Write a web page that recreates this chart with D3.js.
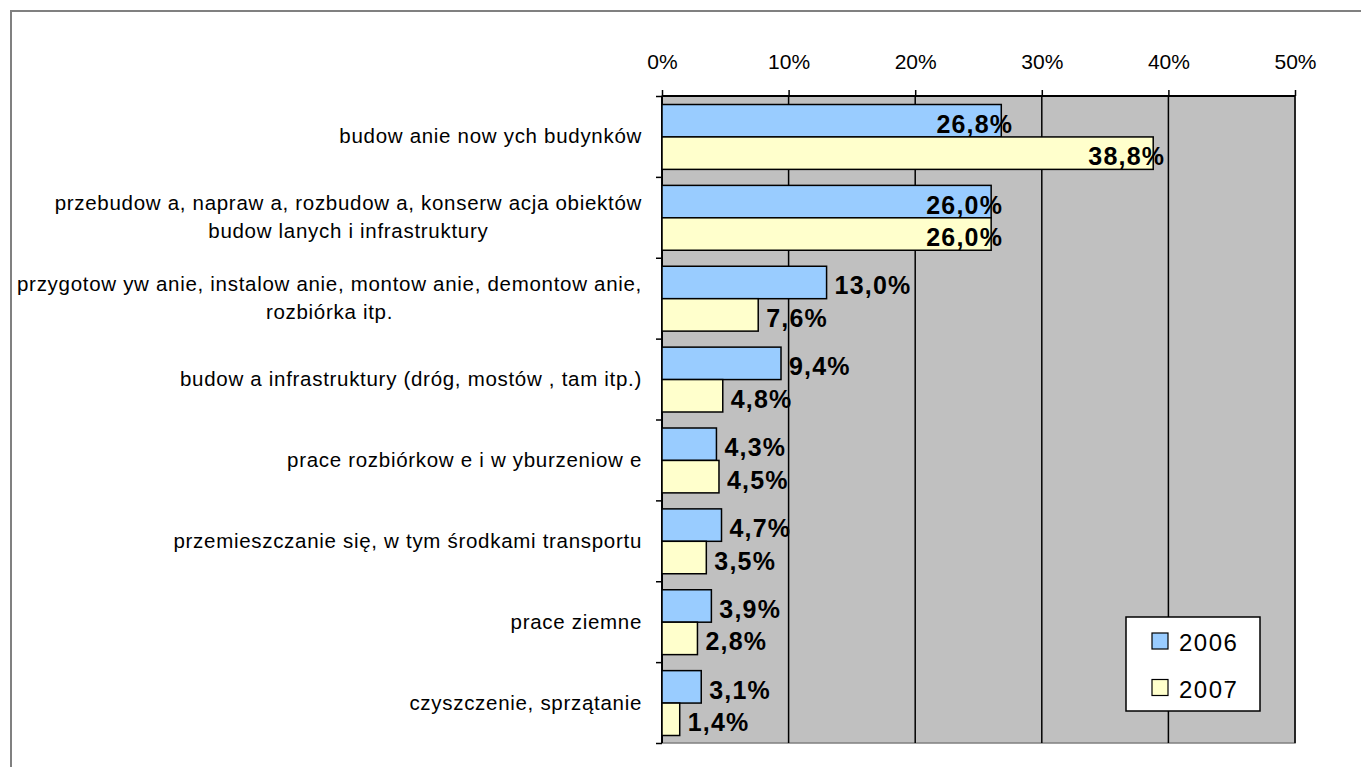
<!DOCTYPE html>
<html>
<head>
<meta charset="utf-8">
<script src="https://cdnjs.cloudflare.com/ajax/libs/d3/7.8.5/d3.min.js"></script>
<style>
  body { margin: 0; background: #fff; }
  svg { display: block; font-family: "Liberation Sans", Arial, sans-serif; }
</style>
</head>
<body>
<div id="chart"></div>
<script>
var categories = [
  ["budow anie now ych budynków"],
  ["przebudow a, napraw a, rozbudow a, konserw acja obiektów", "budow lanych i infrastruktury"],
  ["przygotow yw anie, instalow anie, montow anie, demontow anie,", "rozbiórka itp."],
  ["budow a infrastruktury (dróg, mostów , tam itp.)"],
  ["prace rozbiórkow e i w yburzeniow e"],
  ["przemieszczanie się, w  tym środkami transportu"],
  ["prace ziemne"],
  ["czyszczenie, sprzątanie"]
];
var seriesNames = ["2006", "2007"];
var values2006 = [0.268, 0.260, 0.130, 0.094, 0.043, 0.047, 0.039, 0.031];
var values2007 = [0.388, 0.260, 0.076, 0.048, 0.045, 0.035, 0.028, 0.014];
var xTicks = [0, 0.1, 0.2, 0.3, 0.4, 0.5];
var colors = ["#99ccff", "#ffffcc"];

var width = 1361, height = 767;
var plot = { left: 662, right: 1295, top: 96, bottom: 743 };

var svg = d3.select("#chart").append("svg")
  .attr("width", width)
  .attr("height", height);

svg.append("rect")
  .attr("x", 11).attr("y", 11)
  .attr("width", width).attr("height", height)
  .attr("fill", "#fff")
  .attr("stroke", "#808080")
  .attr("stroke-width", 2);

var x = d3.scaleLinear().domain([0, 0.5]).range([plot.left, plot.right]);
var idx = d3.range(categories.length);
var y = d3.scaleBand().domain(idx).range([plot.top, plot.bottom]);
var ySub = d3.scaleBand().domain([0, 1]).range([8.5, y.bandwidth() - 7.5]);
var yEdge = d3.scaleLinear().domain([0, categories.length]).range([plot.top, plot.bottom]);

// plot area
svg.append("rect")
  .attr("x", plot.left).attr("y", plot.top)
  .attr("width", plot.right - plot.left)
  .attr("height", plot.bottom - plot.top)
  .attr("fill", "#c0c0c0")
  .attr("stroke", "#808080")
  .attr("stroke-width", 1.5);

// gridlines
svg.selectAll(".grid")
  .data(xTicks.slice(1))
  .enter().append("line")
  .attr("class", "grid")
  .attr("x1", function(d) { return x(d); })
  .attr("x2", function(d) { return x(d); })
  .attr("y1", plot.top)
  .attr("y2", plot.bottom)
  .attr("stroke", "#000")
  .attr("stroke-width", 1.5);

// top axis
var xAxis = d3.axisTop(x)
  .tickValues(xTicks)
  .tickSize(6)
  .tickPadding(21)
  .tickFormat(d3.format(".0%"));

var gx = svg.append("g")
  .attr("transform", "translate(0," + plot.top + ")")
  .call(xAxis);
gx.select(".domain").attr("d", "M" + plot.left + ",0H" + plot.right)
  .attr("stroke", "#000").attr("stroke-width", 2);
gx.selectAll(".tick line").attr("stroke", "#000").attr("stroke-width", 1.5);
gx.selectAll(".tick text")
  .attr("font-size", 21)
  .attr("font-family", "Liberation Sans, Arial, sans-serif")
  .attr("fill", "#000");

// left axis with ticks on category boundaries
var yAxis = d3.axisLeft(yEdge)
  .tickValues(d3.range(categories.length + 1))
  .tickSize(6)
  .tickFormat("");
var gy = svg.append("g")
  .attr("transform", "translate(" + plot.left + ",0)")
  .call(yAxis);
gy.select(".domain").attr("d", "M0," + plot.top + "V" + plot.bottom)
  .attr("stroke", "#000").attr("stroke-width", 2);
gy.selectAll(".tick line").attr("stroke", "#000").attr("stroke-width", 1.5);

// bars
var rows = [];
idx.forEach(function(i) {
  rows.push({ i: i, s: 0, v: values2006[i] });
  rows.push({ i: i, s: 1, v: values2007[i] });
});

svg.selectAll(".bar")
  .data(rows)
  .enter().append("rect")
  .attr("class", "bar")
  .attr("x", x(0))
  .attr("y", function(d) { return y(d.i) + ySub(d.s); })
  .attr("width", function(d) { return x(d.v) - x(0); })
  .attr("height", ySub.bandwidth())
  .attr("fill", function(d) { return colors[d.s]; })
  .attr("stroke", "#000")
  .attr("stroke-width", 1.5);

var fmt = function(v) { return d3.format(".1f")(v * 100).replace(".", ",") + "%"; };

svg.selectAll(".vlabel")
  .data(rows)
  .enter().append("text")
  .attr("class", "vlabel")
  .attr("x", function(d) { return d.v > 0.2 ? x(d.v) + 12 : x(d.v) + 8; })
  .attr("y", function(d) { return y(d.i) + ySub(d.s) + ySub.bandwidth() / 2 + 12; })
  .attr("text-anchor", function(d) { return d.v > 0.2 ? "end" : "start"; })
  .attr("font-size", 25)
  .attr("font-weight", "bold")
  .attr("letter-spacing", 1.2)
  .attr("fill", "#000")
  .text(function(d) { return fmt(d.v); });

// category labels
var labelRight = 642;
idx.forEach(function(i) {
  var lines = categories[i];
  var g = svg.append("g");
  var cy = y(i) + y.bandwidth() / 2;
  var texts = lines.map(function(line, k) {
    return g.append("text")
      .attr("y", cy + (k - (lines.length - 1) / 2) * 28 + 7)
      .attr("font-size", 20.5)
      .attr("letter-spacing", 0.7)
      .attr("fill", "#000")
      .text(line);
  });
  var maxW = d3.max(texts, function(t) { return t.node().getComputedTextLength(); });
  texts.forEach(function(t) {
    t.attr("x", labelRight - maxW / 2).attr("text-anchor", "middle");
  });
});

// legend
var legend = svg.append("g").attr("transform", "translate(1126,617)");
legend.append("rect")
  .attr("width", 134).attr("height", 94)
  .attr("fill", "#fff")
  .attr("stroke", "#000")
  .attr("stroke-width", 1.5);
seriesNames.forEach(function(name, k) {
  legend.append("rect")
    .attr("x", 26).attr("y", 16 + k * 46.5)
    .attr("width", 16).attr("height", 16)
    .attr("fill", colors[k])
    .attr("stroke", "#000")
    .attr("stroke-width", 1.2);
  legend.append("text")
    .attr("x", 53).attr("y", 34 + k * 46.5)
    .attr("font-size", 24)
    .attr("letter-spacing", 1.5)
    .attr("fill", "#000")
    .text(name);
});
</script>
</body>
</html>
